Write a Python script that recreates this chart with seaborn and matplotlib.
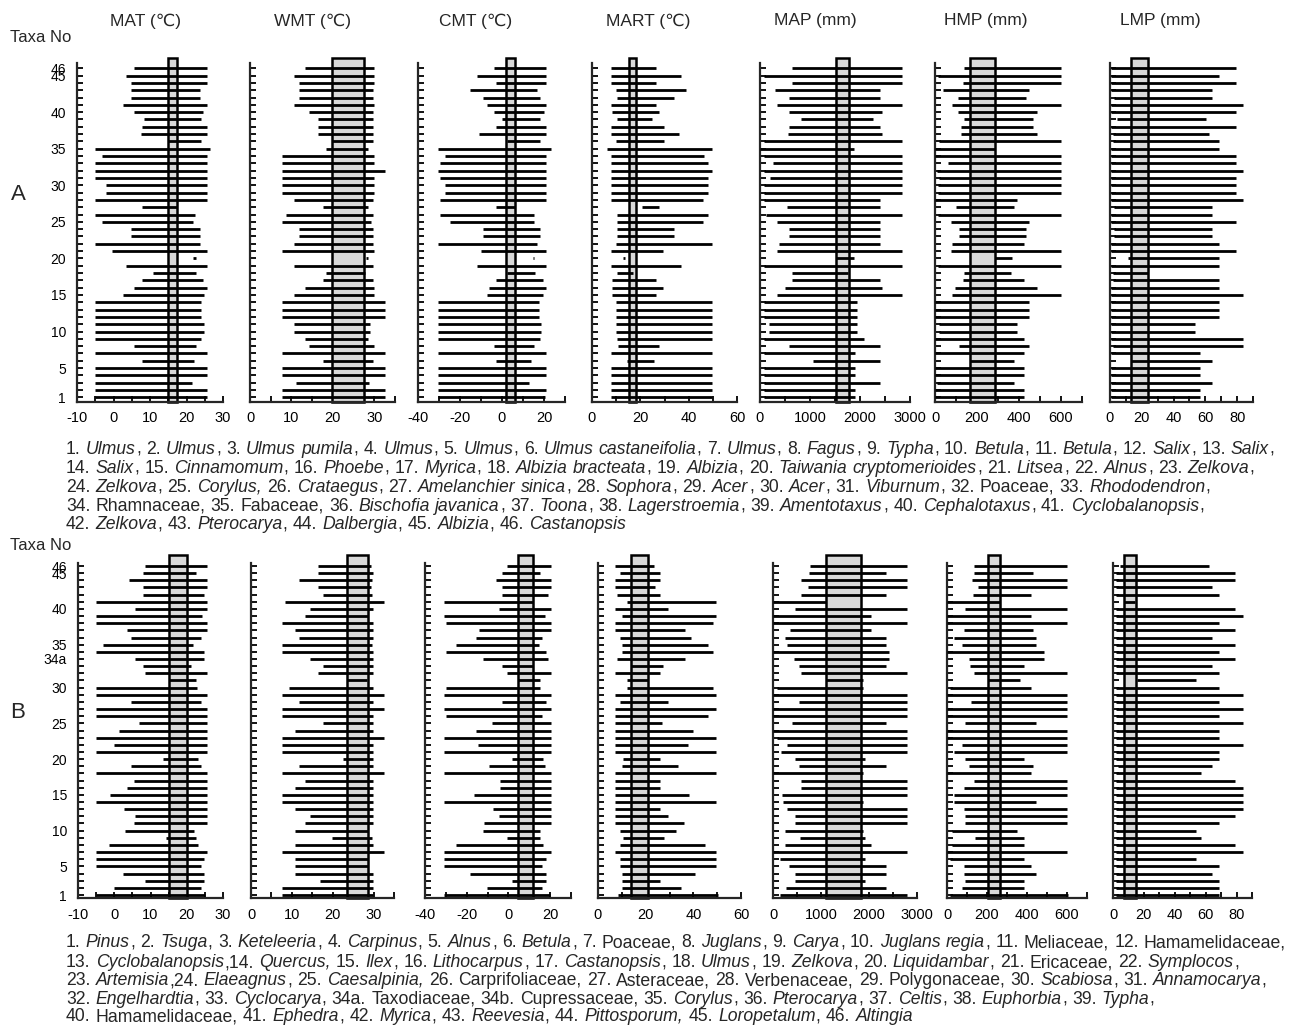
import numpy as np
import matplotlib
matplotlib.use("Agg")
from matplotlib import pyplot as plt
import seaborn as sns

# ---------------- panel A : 46 taxa, ranges (low, high) per taxon 1..46 ----------------
a_mat_lo = [-5, -5, -5, -5, -5, 7.9, -5, 5.6, -5, -5, -5, -5, -5, -5, 2.7, 5.5, 7.9, 10.9, 3.5, 21.9,
            -0.3, -5, 4.7, 4.7, -3.2, -5, 7.9, -5, -2, -2, -5, -5, -5, -3.2, -5, 15, 7.5, 7.9, 8.4, 5.6,
            2.7, 4.7, 4.7, 4.7, 3.5, 5.5]
a_mat_hi = [25.5, 25.5, 21.6, 25.5, 25.5, 22, 25.5, 22.5, 24.1, 24.7, 24.7, 23.9, 23.9, 23.9, 24.7, 25.5,
            24.5, 22.5, 25.5, 22.5, 25.5, 23.6, 23.6, 23.6, 21.8, 22.3, 17.3, 25.5, 25.5, 25.5, 25.5, 25.5,
            25.5, 25.5, 26.4, 24, 25.5, 25.5, 23.9, 24.5, 25.5, 23.6, 23.6, 25.5, 25.5, 25.5]
a_mat_box = (14.8, 17.5)

a_wmt_lo = [7.8, 7.8, 11, 7.8, 7.8, 17.7, 7.8, 14.3, 13.3, 10.6, 10.6, 7.8, 7.8, 7.8, 10.6, 13.3, 17.7,
            18.3, 10.6, 28.0, 7.8, 10.6, 11.8, 11.8, 7.8, 8.6, 17.7, 10.6, 7.8, 7.8, 7.8, 7.8, 7.8, 7.8,
            18.3, 19.7, 16.3, 16.3, 16.3, 14.3, 10.6, 11.8, 11.8, 11.8, 10.6, 13.3]
a_wmt_hi = [32.5, 32.5, 28.8, 32.5, 32.5, 29.6, 32.5, 29.9, 28.5, 28.9, 28.9, 32.5, 32.5, 32.5, 29.9, 29.9,
            29.6, 27.7, 29.6, 28.5, 29.9, 29.6, 29.6, 29.6, 29.3, 29.6, 28.5, 29.6, 29.9, 29.9, 29.9, 32.5,
            29.9, 29.9, 28.5, 29.6, 29.6, 29.6, 29.6, 29.6, 29.9, 29.6, 29.6, 29.9, 29.9, 29.9]
a_wmt_box = (19.7, 27.5)

a_cmt_lo = [-30.5, -30.5, -30.5, -30.5, -30.5, -2.9, -30.5, -4, -30.5, -30.5, -30.5, -30.5, -30.5, -30.5,
            -7.1, -6.3, -2.9, 2.4, -11.9, 14.8, -9.8, -30.5, -9, -9, -24.9, -29.7, -2.9, -29.4, -27.3,
            -27.3, -29.7, -30.5, -29.4, -27.3, -30.5, 2.4, -11.1, -2.9, 0, -4, -7.1, -9, -15.1, -2.9,
            -11.9, -3.6]
a_cmt_hi = [20.6, 21, 12.7, 21, 21, 13.8, 21, 15.4, 18.3, 18.6, 18.6, 17.5, 17.5, 17.5, 19.5, 21, 19.5,
            15.9, 21, 15.4, 21, 16.7, 18.3, 18.3, 15.4, 15.4, 6.3, 21, 21, 21, 21, 21, 21, 21, 23.3, 18.3,
            21, 21, 18.3, 19.8, 21, 18.3, 16.7, 21, 21, 21]
a_cmt_box = (2.1, 6.3)

a_mart_lo = [7.7, 7.7, 7.7, 7.7, 7.7, 14.3, 7.7, 10.9, 10.5, 9.8, 9.8, 9.8, 9.8, 9.8, 8.4, 8.4, 8.4, 10.2,
             7.7, 12.9, 7.7, 9.8, 10.5, 10.5, 10.5, 10.5, 20.8, 7.7, 7.7, 7.7, 7.7, 7.7, 7.7, 7.7, 6.1, 9.8,
             7.7, 7.7, 10.5, 8.4, 7.7, 10.5, 9.8, 7.7, 7.7, 7.7]
a_mart_hi = [49.5, 49.5, 49.5, 49.5, 49.5, 25.7, 49.5, 27.7, 49.5, 49.5, 49.5, 49.5, 49.5, 49.5, 26.3,
             29.5, 26.3, 17, 36.7, 13.5, 29.5, 49.5, 33.9, 33.9, 46.1, 48.1, 27.7, 46.1, 48.1, 48.1, 48.1,
             49.5, 48.1, 46.5, 49.5, 29.9, 36.1, 29.9, 25, 27.7, 26.3, 33.9, 38.9, 26.3, 36.7, 26.3]
a_mart_box = (15.4, 18.2)

a_map_lo = [80, 80, 80, 80, 80, 1067, 80, 580, 80, 187, 187, 80, 80, 80, 333, 500, 633, 633, 80, 1513,
            333, 387, 580, 580, 333, 120, 547, 80, 80, 80, 200, 80, 267, 80, 0, 80, 567, 580, 820, 580,
            333, 580, 300, 633, 80, 633]
a_map_hi = [1900, 1900, 2400, 1900, 1900, 2400, 1900, 2400, 2080, 1947, 1947, 1947, 1947, 1947, 2833,
            2447, 2400, 1750, 2833, 1880, 2833, 2400, 2400, 2400, 2400, 2833, 2400, 2400, 2833, 2833,
            2833, 2833, 2833, 2833, 1880, 2833, 2447, 2400, 2267, 2447, 2833, 2400, 2400, 2833, 2833, 2833]
a_map_box = (1513, 1787)

a_hmp_lo = [0, 0, 11, 0, 0, 168, 0, 112, 0, 19, 19, 0, 0, 0, 83, 93, 131, 139, 16, 288, 75, 83, 112, 112,
            75, 16, 99, 0, 16, 16, 19, 8, 61, 0, 0, 19, 123, 125, 139, 109, 83, 109, 37, 131, 16, 139]
a_hmp_hi = [424, 424, 376, 424, 424, 376, 424, 448, 424, 389, 389, 448, 448, 448, 600, 485, 424, 363, 600,
            368, 600, 424, 432, 432, 448, 600, 376, 389, 600, 600, 600, 600, 600, 600, 288, 600, 485, 469,
            469, 485, 600, 432, 448, 600, 600, 600]
a_hmp_box = (168, 288)

a_lmp_lo = [0.4, 0.4, 0.4, 0.4, 0.4, 13, 0.4, 1.7, 0.4, 0.4, 0.4, 0.4, 0.4, 0.4, 0.4, 0.4, 1.7, 1.7, 0.4,
            11.2, 0.4, 0.4, 2.5, 2.5, 0.4, 0.4, 2.5, 0.4, 0.4, 0.4, 0.4, 0.4, 0.4, 0.4, 0.4, 1.7, 1.7, 0.4,
            4.6, 0.4, 0.4, 2.5, 0.4, 0.4, 0.4, 0.4]
a_lmp_hi = [56.8, 56.8, 64.2, 56.8, 56.8, 64.2, 56.8, 84, 84, 53.7, 53.7, 68.4, 68.4, 68.4, 84, 68.4, 68.4,
            24.2, 68.4, 68.4, 79.4, 68.4, 64.2, 64.2, 79.4, 64.2, 64.2, 84, 79.4, 79.4, 79.4, 84, 79.4,
            79.4, 68.4, 68.4, 62, 79.4, 60.4, 79.4, 84, 64.2, 64.2, 79.4, 68.4, 79.4]
a_lmp_box = (13, 24.2)

# ---------------- panel B : 47 entries (34a and 34b) ----------------
b_names = [str(i) for i in range(1, 34)] + ["34a", "34b"] + [str(i) for i in range(35, 47)]
b_shown = ["1", "5", "10", "15", "20", "25", "30", "34a", "35", "40", "45", "46"]

b_mat_lo = [-4.9, -0.1, 8.6, 2.4, -4.9, -4.9, -4.9, -1.5, 14.2, 3.1, 5.4, 5.7, 2.7, -4.9, -1.1, 3.4, 5.4,
            -4.9, 4.7, 13.5, -4.9, -0.1, -4.9, 1.2, 6.9, -4.9, -4.9, 4.7, -4.9, -4.9, 15.2, 8.6, 8, 5.7,
            -4.9, -3.1, 4.7, 3.4, -4.9, -4.9, 5.7, -4.9, 8, 8, 4.1, 8, 8.6]
b_mat_hi = [25, 23.8, 24.7, 24.7, 23.8, 24.7, 25.7, 23, 22.5, 22.1, 25.7, 25.7, 25.7, 25.7, 25.7, 25.7,
            25.7, 25.7, 23.8, 23.2, 25.7, 25.7, 25.7, 25.7, 25.7, 25.7, 25.7, 23.8, 25.7, 22.7, 22.5, 25.7,
            21.2, 24.7, 24.7, 21.8, 23.8, 25.7, 25.7, 24.1, 25.7, 25.7, 24.7, 25.7, 25.7, 22.5, 25.7]
b_mat_box = (15.2, 20.1)

b_wmt_lo = [7.7, 7.7, 16.9, 10.7, 10.7, 10.7, 7.7, 10.7, 19.8, 10.7, 13.3, 14.5, 10.7, 7.7, 7.7, 10.7,
            13.3, 7.7, 11.8, 22.6, 7.7, 7.7, 7.7, 10.7, 17.6, 7.7, 7.7, 11.8, 7.7, 9.4, 23.6, 16.3, 17.6,
            14.5, 7.7, 7.7, 11.8, 10.7, 7.6, 13.3, 14.5, 8.2, 17.6, 16.3, 11.8, 16.3, 16.3]
b_wmt_hi = [29.8, 29.8, 29.8, 29.8, 28.7, 28.7, 32.6, 29.8, 29.5, 28.7, 29.8, 29.8, 29.8, 29.8, 29.8, 29.8,
            29.8, 32.6, 29.8, 29.8, 29.8, 29.8, 32.6, 29.8, 29.8, 29.8, 32.6, 29.8, 32.6, 29.8, 28.5, 29.8,
            29.8, 29.8, 29.8, 29.5, 29.8, 29.8, 29.8, 28.7, 29.8, 32.6, 29.5, 29.3, 29.5, 29.8, 29.3]
b_wmt_box = (23.6, 28.7)

b_cmt_lo = [-30.9, -10.4, 1.6, -18.4, -30.9, -30.9, -30.9, -25.3, -0.5, -12, -11.7, -4.5, -7.2, -30.9,
            -16.3, -4, -4, -30.9, -9.3, 1.6, -30.9, -14.7, -30.9, -15.5, -8, -30.1, -30.9, -3.2, -30.9,
            -30.1, 4.8, -0.5, -3.2, -12, -30.1, -25.3, -15.5, -14.1, -30.1, -30.9, -4.5, -30.9, -3.2, -3.2,
            -5.9, -3.2, -0.5]
b_cmt_hi = [19.7, 16.3, 18.1, 18.1, 16.3, 18.1, 20.3, 16.5, 15.2, 15.2, 20.3, 20.3, 20.3, 20.3, 20.3, 20.3,
            20.3, 20.3, 17.6, 16.5, 20.3, 20.3, 20.3, 20.3, 20.3, 16, 20.3, 17.9, 20.3, 15.2, 15.2, 20.3,
            12, 19.2, 18.1, 14.7, 16.3, 20.3, 20.3, 17.6, 20.3, 12, 19.2, 20.3, 20.3, 15.2, 20.3]
b_cmt_box = (4.8, 12)

b_mart_lo = [8.5, 10.1, 10.1, 9.9, 9.4, 9.4, 7.3, 9.4, 10.6, 9.4, 7.3, 7.3, 7.3, 7.3, 7.3, 7.3, 7.3, 7.3,
             10.1, 10.6, 7.3, 7.3, 7.3, 7.3, 7.3, 7.3, 7.3, 9.4, 7.3, 12, 12, 7.3, 13.7, 8, 9.9, 10.1, 9.4,
             7.3, 7.3, 10.1, 7.3, 12, 8, 7.3, 7.3, 9.4, 7.3]
b_mart_hi = [50.3, 34.9, 26.1, 40.6, 49.6, 49.6, 49.6, 45.1, 27.7, 32.8, 35.9, 29.3, 26.1, 49.6, 38.3, 26.1,
             26.1, 49.6, 33.5, 26.1, 49.6, 37.6, 49.6, 39.7, 27, 46.2, 49.6, 29.3, 49.6, 48.2, 21.1, 26.1,
             27.2, 36.6, 48.2, 46.2, 39, 36.6, 48.2, 49.6, 29.3, 49.6, 26.1, 23.9, 26.1, 26.1, 23.7]
b_mart_box = (13.7, 21.1)

b_map_lo = [153, 271, 465, 465, 340, 153, 0, 257, 569, 257, 465, 465, 292, 201, 187, 590, 590, 0, 548, 465,
            167, 292, 83, 0, 396, 0, 0, 548, 0, 83, 1110, 590, 548, 444, 0, 292, 257, 347, 0, 0, 465, 0,
            590, 722, 590, 743, 763]
b_map_hi = [2790, 2360, 1922, 2360, 2360, 1922, 2790, 2047, 1922, 1867, 2790, 2790, 2790, 1867, 2790, 2790,
            2790, 1867, 2360, 1922, 2790, 2790, 2790, 2790, 2360, 2790, 2790, 2790, 2790, 1867, 1870, 2790,
            2360, 2410, 2410, 2360, 2360, 2047, 2790, 2047, 2790, 1110, 2360, 2790, 2790, 2360, 2790]
b_map_box = (1110, 1840)

b_hmp_lo = [13, 75, 92, 83, 83, 17, 0, 25, 142, 25, 92, 92, 83, 33, 33, 83, 137, 0, 108, 92, 37, 75, 0, 0,
            92, 0, 0, 120, 0, 17, 203, 137, 117, 108, 0, 75, 37, 83, 0, 0, 92, 0, 130, 153, 125, 137, 137]
b_hmp_hi = [603, 387, 387, 445, 422, 387, 600, 387, 387, 350, 600, 600, 600, 445, 600, 600, 600, 422, 430,
            387, 600, 600, 600, 600, 445, 600, 600, 600, 600, 422, 367, 600, 387, 483, 483, 445, 445, 430,
            600, 422, 600, 263, 422, 600, 600, 430, 600]
b_hmp_box = (203, 263)

b_lmp_lo = [2.2] * 18 + [3.3] + [2.2] * 11 + [15.7] + [2.2] * 10 + [7.0] + [2.2] * 4 + [4.8]
b_lmp_hi = [68.5, 68.5, 68.5, 64.1, 68.5, 53.9, 84.1, 79.3, 57, 53.9, 68.5, 79.3, 84.1, 84.1, 84.1, 84.1,
            79.3, 57, 64.1, 68.5, 68.5, 84.1, 68.5, 68.5, 84.1, 68.5, 84.1, 68.5, 84.1, 68.5, 53.9, 68.5,
            64.1, 79.3, 68.5, 79.3, 64.1, 79.3, 68.5, 84.1, 79.3, 14.0, 68.5, 64.1, 79.3, 79.3, 62.4]
b_lmp_box = (7, 14.6)

# ---------------- axis setup shared by both panels ----------------
titles = ["MAT (\u2103)", "WMT (\u2103)", "CMT (\u2103)", "MART (\u2103)", "MAP (mm)", "HMP (mm)", "LMP (mm)"]
title_x = [146, 313, 476, 648, 815, 986, 1160]
xlims = [(-10, 30), (0, 35), (-40, 30), (0, 60), (0, 3000), (0, 700), (0, 90)]
xmajor = [[-10, 0, 10, 20, 30], [0, 10, 20, 30], [-40, -20, 0, 20], [0, 20, 40, 60],
          [0, 1000, 2000, 3000], [0, 200, 400, 600], [0, 20, 40, 60, 80]]
xstep = [5, 5, 10, 10, 500, 100, 10]

caption_a = [
    "1. *Ulmus*, 2. *Ulmus*, 3. *Ulmus pumila*, 4. *Ulmus*, 5. *Ulmus*, 6. *Ulmus castaneifolia*, 7. *Ulmus*, 8. *Fagus*, 9. *Typha*, 10. *Betula*, 11. *Betula*, 12. *Salix*, 13. *Salix*,",
    "14. *Salix*, 15. *Cinnamomum*, 16. *Phoebe*, 17. *Myrica*, 18. *Albizia bracteata*, 19. *Albizia*, 20. *Taiwania cryptomerioides*, 21. *Litsea*, 22. *Alnus*, 23. *Zelkova*,",
    "24. *Zelkova*, 25. *Corylus,* 26. *Crataegus*, 27. *Amelanchier sinica*, 28. *Sophora*, 29. *Acer*, 30. *Acer*, 31. *Viburnum*, 32. Poaceae, 33. *Rhododendron*,",
    "34. Rhamnaceae, 35. Fabaceae, 36. *Bischofia javanica*, 37. *Toona*, 38. *Lagerstroemia*, 39. *Amentotaxus*, 40. *Cephalotaxus*, 41. *Cyclobalanopsis*,",
    "42. *Zelkova*, 43. *Pterocarya*, 44. *Dalbergia*, 45. *Albizia*, 46. *Castanopsis*",
]
caption_b = [
    "1. *Pinus*, 2. *Tsuga*, 3. *Keteleeria*, 4. *Carpinus*, 5. *Alnus*, 6. *Betula*, 7. Poaceae, 8. *Juglans*, 9. *Carya*, 10. *Juglans regia*, 11. Meliaceae, 12. Hamamelidaceae,",
    "13. *Cyclobalanopsis*,14. *Quercus,* 15. *Ilex*, 16. *Lithocarpus*, 17. *Castanopsis*, 18. *Ulmus*, 19. *Zelkova*, 20. *Liquidambar*, 21. Ericaceae, 22. *Symplocos*,",
    "23. *Artemisia*,24. *Elaeagnus*, 25. *Caesalpinia,* 26. Carprifoliaceae, 27. Asteraceae, 28. Verbenaceae, 29. Polygonaceae, 30. *Scabiosa*, 31. *Annamocarya*,",
    "32. *Engelhardtia*, 33. *Cyclocarya*, 34a. Taxodiaceae, 34b. Cupressaceae, 35. *Corylus*, 36. *Pterocarya*, 37. *Celtis*, 38. *Euphorbia*, 39. *Typha*,",
    "40. Hamamelidaceae, 41. *Ephedra*, 42. *Myrica*, 43. *Reevesia*, 44. *Pittosporum,* 45. *Loropetalum*, 46. *Altingia*",
]

W, H = 1292, 1027
sns.set_theme(style="ticks")
plt.rcParams["font.family"] = ["Liberation Sans", "DejaVu Sans"]
plt.rcParams["axes.linewidth"] = 1.6

fig = plt.figure(figsize=(W / 100, H / 100), dpi=100)

panels = [
    dict(cols=[(77, 223), (250, 395), (418, 565), (592, 737), (760, 910), (935, 1082), (1110, 1253)],
         top=58.3, bottom=401.7, ylim=(0.4, 47.37), spine_top=46.68,
         names=[str(i) for i in range(1, 47)],
         shown=["1", "5", "10", "15", "20", "25", "30", "35", "40", "45", "46"],
         data=[(a_mat_lo, a_mat_hi, a_mat_box), (a_wmt_lo, a_wmt_hi, a_wmt_box),
               (a_cmt_lo, a_cmt_hi, a_cmt_box), (a_mart_lo, a_mart_hi, a_mart_box),
               (a_map_lo, a_map_hi, a_map_box), (a_hmp_lo, a_hmp_hi, a_hmp_box),
               (a_lmp_lo, a_lmp_hi, a_lmp_box)]),
    dict(cols=[(78, 223), (251, 394), (425, 571), (598, 741), (773, 917), (947, 1087), (1113, 1252)],
         top=555, bottom=898.3, ylim=(0.54, 48.54), spine_top=47.46,
         names=b_names, shown=b_shown,
         data=[(b_mat_lo, b_mat_hi, b_mat_box), (b_wmt_lo, b_wmt_hi, b_wmt_box),
               (b_cmt_lo, b_cmt_hi, b_cmt_box), (b_mart_lo, b_mart_hi, b_mart_box),
               (b_map_lo, b_map_hi, b_map_box), (b_hmp_lo, b_hmp_hi, b_hmp_box),
               (b_lmp_lo, b_lmp_hi, b_lmp_box)]),
]

for p in panels:
    ypos = np.arange(1, len(p["names"]) + 1)
    for j, (x0, x1) in enumerate(p["cols"]):
        ax = fig.add_axes([x0 / W, 1 - p["bottom"] / H, (x1 - x0) / W, (p["bottom"] - p["top"]) / H])
        ax.set_facecolor("none")
        lo, hi, box = p["data"][j]
        ax.axvspan(box[0], box[1], facecolor="#d9d9d9", edgecolor="black", lw=1.8, zorder=1, clip_on=False)
        ax.hlines(ypos, lo, hi, colors="black", lw=2.0, zorder=3)
        ax.set_xlim(*xlims[j])
        ax.set_ylim(*p["ylim"])
        sns.despine(ax=ax)
        ax.spines["left"].set_bounds(p["ylim"][0], p["spine_top"])
        ax.spines["left"].set_linewidth(1.6)
        ax.spines["bottom"].set_linewidth(1.6)
        lo_x, hi_x = xlims[j]
        xt = np.arange(lo_x, hi_x + xstep[j] / 2, xstep[j])
        ax.set_xticks(xt)
        ax.set_xticklabels([str(int(v)) if int(v) in xmajor[j] else "" for v in xt], fontsize=10.5)
        ax.set_yticks(ypos)
        if j == 0:
            ax.set_yticklabels([n if n in p["shown"] else "" for n in p["names"]], fontsize=10)
        else:
            ax.set_yticklabels([])
        ax.tick_params(axis="both", direction="in", length=4, width=1.3, colors="black")
        ax.tick_params(axis="x", pad=7)
        ax.tick_params(axis="y", pad=8)
        ax.grid(False)

for t, cx in zip(titles, title_x):
    fig.text(cx / W, 1 - 21 / H, t, ha="center", va="center", fontsize=12.5)

fig.text(10 / W, 1 - 38 / H, "Taxa No", ha="left", va="center", fontsize=12)
fig.text(10 / W, 1 - 545 / H, "Taxa No", ha="left", va="center", fontsize=12)
fig.text(18 / W, 1 - 195 / H, "A", ha="center", va="center", fontsize=16)
fig.text(18 / W, 1 - 712 / H, "B", ha="center", va="center", fontsize=16)

# ---------------- captions with mixed italic / upright text ----------------
renderer = fig.canvas.get_renderer()


def text_width(s, size, italic):
    t = fig.text(0, 0, s, fontsize=size, style="italic" if italic else "normal")
    w = t.get_window_extent(renderer).width
    t.remove()
    return w


def draw_rich(x_px, y_px, markup, size, draw=True):
    space = text_width("a a", size, False) - text_width("aa", size, False)
    x = x_px
    parts = markup.split("*")
    for k, part in enumerate(parts):
        italic = k % 2 == 1
        words = part.split(" ")
        for i, w in enumerate(words):
            if i > 0:
                x += space
            if not w:
                continue
            if draw:
                fig.text(x / W, 1 - y_px / H, w, fontsize=size, va="baseline", ha="left",
                         style="italic" if italic else "normal")
            x += text_width(w, size, italic) + (0.4 if italic else 0.3)
    return x - x_px


# caption font size chosen so the first line spans the same width as in the original
ref = draw_rich(0, 0, caption_a[0], 10, draw=False)
cap_size = 10 * 1216 / ref

for line, yb in zip(caption_a, [454, 473, 492, 511, 529]):
    draw_rich(66, yb, line, cap_size)
for line, yb in zip(caption_b, [947, 967, 985, 1004, 1021]):
    draw_rich(66, yb, line, cap_size)

fig.savefig("out.png", dpi=100)
